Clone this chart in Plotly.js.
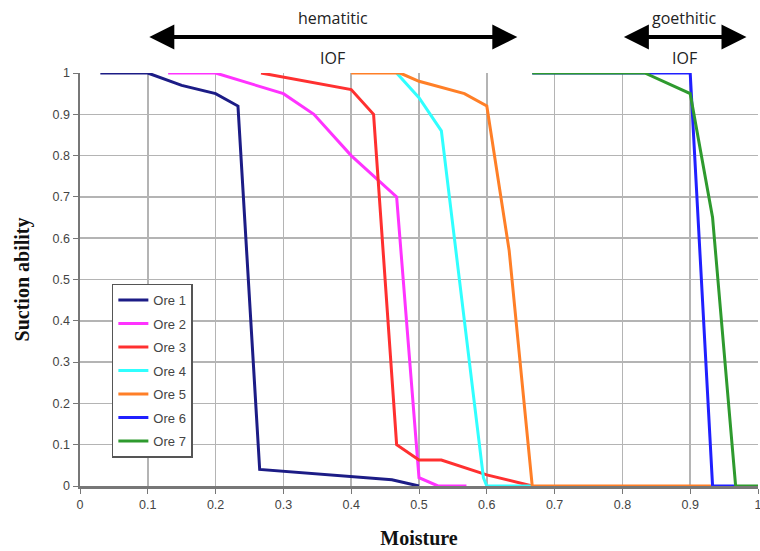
<!DOCTYPE html>
<html>
<head>
<meta charset="utf-8">
<script src="https://cdn.plot.ly/plotly-3.0.1.min.js"></script>
<style>html,body{margin:0;padding:0;background:#fff;}#chart{width:760px;height:551px;}</style>
</head>
<body>
<div id="chart"></div>
<script>
// ---- data ----
const seriesNames = ["Ore 1", "Ore 2", "Ore 3", "Ore 4", "Ore 5", "Ore 6", "Ore 7"];
const ore1X = [0.03, 0.1, 0.15, 0.2, 0.233, 0.265, 0.46, 0.5];
const ore1Y = [1, 1, 0.97, 0.95, 0.92, 0.04, 0.015, 0];
const ore2X = [0.13, 0.2, 0.3, 0.345, 0.4, 0.467, 0.5, 0.528, 0.57];
const ore2Y = [1, 1, 0.95, 0.9, 0.8, 0.7, 0.02, 0, 0];
const ore3X = [0.267, 0.3, 0.4, 0.433, 0.467, 0.5, 0.533, 0.6, 0.667];
const ore3Y = [1, 0.99, 0.96, 0.9, 0.1, 0.063, 0.063, 0.027, 0];
const ore4X = [0.467, 0.5, 0.533, 0.595, 0.6, 0.667];
const ore4Y = [1, 0.94, 0.86, 0.02, 0, 0];
const ore5X = [0.4, 0.472, 0.5, 0.567, 0.6, 0.633, 0.667, 0.933];
const ore5Y = [1, 1, 0.98, 0.95, 0.92, 0.57, 0, 0];
const ore6X = [0.667, 0.9, 0.933, 0.967];
const ore6Y = [1, 1, 0, 0];
const ore7X = [0.667, 0.833, 0.9, 0.933, 0.967, 1.0];
const ore7Y = [1, 1, 0.95, 0.65, 0, 0];
const xTicks = [0, 0.1, 0.2, 0.3, 0.4, 0.5, 0.6, 0.7, 0.8, 0.9, 1];
const yTicks = [0, 0.1, 0.2, 0.3, 0.4, 0.5, 0.6, 0.7, 0.8, 0.9, 1];
const bandLabels = ["hematitic", "goethitic"];
const bandStart = [0.1, 0.8];
const bandEnd = [0.645, 0.983];
const bandSub = ["IOF", "IOF"];

const xs = [ore1X, ore2X, ore3X, ore4X, ore5X, ore6X, ore7X];
const ys = [ore1Y, ore2Y, ore3Y, ore4Y, ore5Y, ore6Y, ore7Y];
const colors = ["#1c1c86", "#ff33ff", "#ff3030", "#30ffff", "#ff7f27", "#2020ff", "#2e9a2e"];

const traces = seriesNames.map((n, i) => ({
  type: "scatter", mode: "lines", name: n, x: xs[i], y: ys[i], legendgroup: "g" + i,
  line: {color: colors[i], width: 3}, cliponaxis: false
}));

const annotations = [];
bandLabels.forEach((lab, i) => {
  const mid = (bandStart[i] + bandEnd[i]) / 2;
  annotations.push({xref: "x", yref: "paper", x: bandEnd[i], y: 1.087, axref: "x", ayref: "pixel",
    ax: bandStart[i], ay: 0, text: "", showarrow: true, arrowside: "end+start",
    arrowhead: 2, arrowsize: 1.25, arrowwidth: 4, arrowcolor: "#000"});
  annotations.push({xref: "x", yref: "paper", x: mid, y: 1.133, yanchor: "middle", text: lab, showarrow: false,
    font: {family: "Open Sans", size: 16, color: "#222"}});
  annotations.push({xref: "x", yref: "paper", x: mid, y: 1.037, yanchor: "middle", text: bandSub[i], showarrow: false,
    font: {family: "Open Sans", size: 16, color: "#222"}});
});

const layout = {
  width: 760, height: 551,
  margin: {l: 80, r: 2, t: 73, b: 65},
  paper_bgcolor: "#fff", plot_bgcolor: "#fff",
  showlegend: true,
  legend: {x: 0.047, y: 0.49, xanchor: "left", yanchor: "top", bgcolor: "#fff",
    bordercolor: "#555", borderwidth: 1.5, itemwidth: 30, tracegroupgap: 3.6,
    font: {family: "Liberation Sans, Arial", size: 13, color: "#444"}},
  xaxis: {range: [0, 1], tickvals: xTicks, ticktext: xTicks.map(String), showgrid: true,
    gridcolor: "#b4b4b4", gridwidth: 1.5, showline: true, linecolor: "#777", linewidth: 3,
    ticks: "outside", ticklen: 5, tickcolor: "#777", zeroline: false, layer: "below traces",
    ticklabeloverflow: "allow",
    tickfont: {family: "Liberation Sans, Arial", size: 12.5, color: "#444"},
    title: {text: "<b>Moisture</b>", font: {family: "Liberation Serif, Times New Roman", size: 20, color: "#111"}, standoff: 20}},
  yaxis: {range: [0, 1], tickvals: yTicks, ticktext: yTicks.map(String), showgrid: true,
    gridcolor: "#b4b4b4", gridwidth: 1.5, showline: true, linecolor: "#777", linewidth: 2.5,
    ticks: "outside", ticklen: 5, tickcolor: "#777", zeroline: false, layer: "below traces",
    tickfont: {family: "Liberation Sans, Arial", size: 12.5, color: "#444"},
    title: {text: "<b>Suction ability</b>", font: {family: "Liberation Serif, Times New Roman", size: 20, color: "#111"}, standoff: 18}},
  annotations: annotations
};

Plotly.newPlot("chart", traces, layout, {displayModeBar: false, staticPlot: true});
</script>
</body>
</html>
